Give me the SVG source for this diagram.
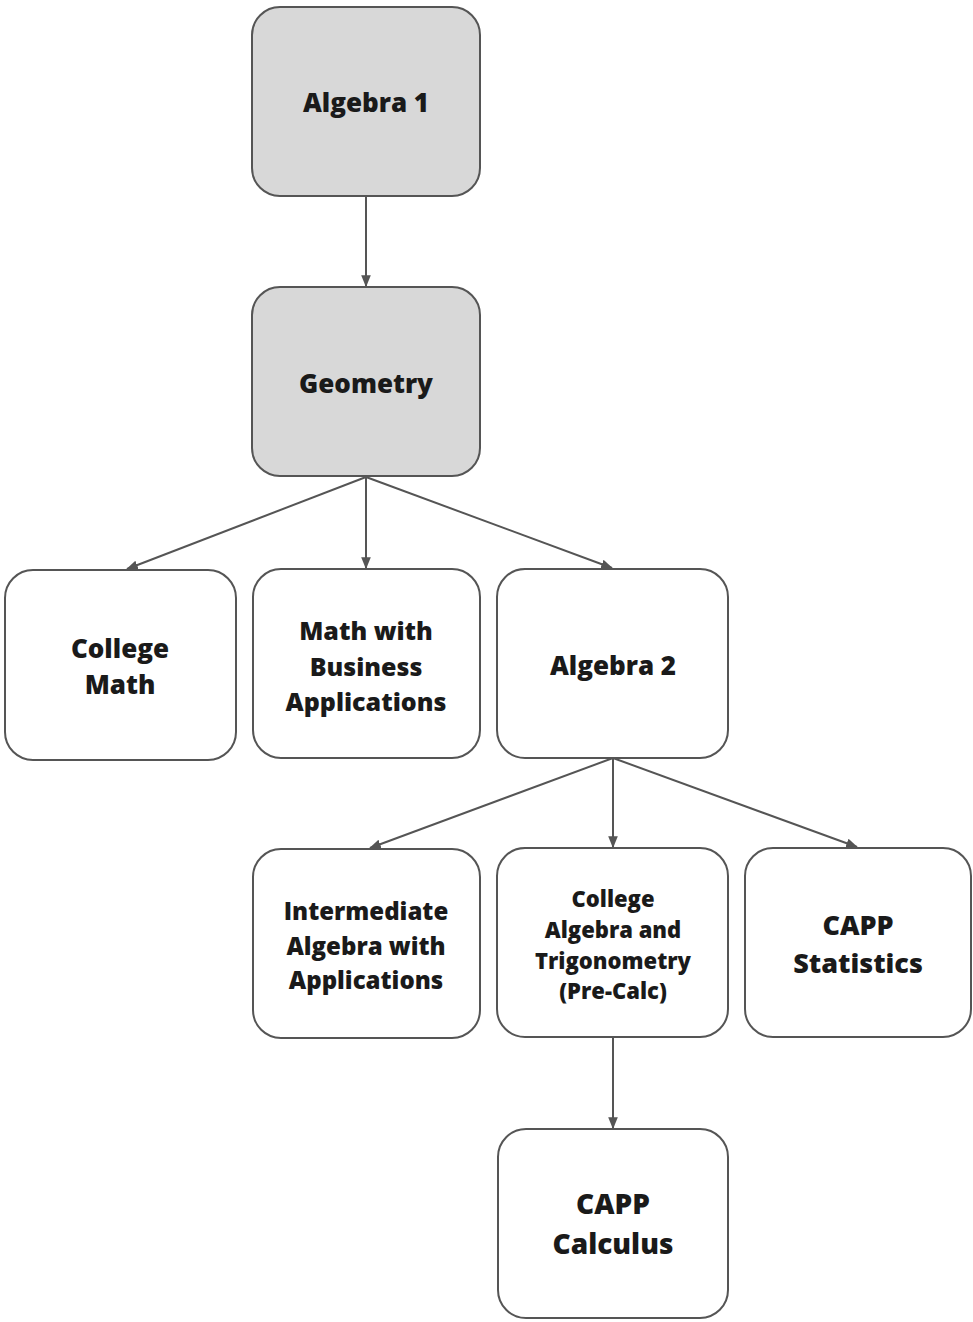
<svg xmlns="http://www.w3.org/2000/svg" width="973" height="1322" viewBox="0 0 973 1322">
<defs>
<style>
.n{fill:#ffffff;stroke:#555;stroke-width:2}
.g{fill:#d8d8d8;stroke:#555;stroke-width:2}
.t{font-family:"Open Sans","Noto Sans",sans-serif;font-weight:800;fill:#1a1a1a;text-anchor:middle}
.c{stroke:#555;stroke-width:2;fill:none;marker-end:url(#a)}
</style>
<marker id="a" viewBox="0 0 10 10" refX="9" refY="5" markerWidth="6" markerHeight="6" markerUnits="strokeWidth" orient="auto">
<path d="M0,1 L10,5 L0,9 z" fill="#555"/>
</marker>
</defs>
<rect width="973" height="1322" fill="#fff"/>
<g id="connectors">
<line class="c" x1="366" y1="197" x2="366" y2="286"/>
<line class="c" x1="366" y1="477" x2="127" y2="569"/>
<line class="c" x1="366" y1="477" x2="366" y2="568"/>
<line class="c" x1="366" y1="477" x2="612" y2="568"/>
<line class="c" x1="613" y1="758" x2="370" y2="848"/>
<line class="c" x1="613" y1="758" x2="613" y2="847"/>
<line class="c" x1="613" y1="758" x2="857" y2="847"/>
<line class="c" x1="613" y1="1037" x2="613" y2="1128"/>
</g>
<g id="algebra1">
<rect class="g" x="252" y="7" width="228" height="189" rx="28"/>
<text class="t" x="366" y="112" font-size="26">Algebra 1</text>
</g>
<g id="geometry">
<rect class="g" x="252" y="287" width="228" height="189" rx="28"/>
<text class="t" x="366" y="393" font-size="26">Geometry</text>
</g>
<g id="collegemath">
<rect class="n" x="5" y="570" width="231" height="190" rx="28"/>
<text class="t" x="120" y="658" font-size="26">College</text>
<text class="t" x="120" y="694" font-size="26">Math</text>
</g>
<g id="mathbusiness">
<rect class="n" x="253" y="569" width="227" height="189" rx="28"/>
<text class="t" x="366" y="640" font-size="25">Math with</text>
<text class="t" x="366" y="676" font-size="25">Business</text>
<text class="t" x="366" y="711" font-size="25">Applications</text>
</g>
<g id="algebra2">
<rect class="n" x="497" y="569" width="231" height="189" rx="28"/>
<text class="t" x="613" y="675" font-size="26">Algebra 2</text>
</g>
<g id="intermediate">
<rect class="n" x="253" y="849" width="227" height="189" rx="28"/>
<text class="t" x="366" y="920" font-size="24">Intermediate</text>
<text class="t" x="366" y="955" font-size="24">Algebra with</text>
<text class="t" x="366" y="989" font-size="24">Applications</text>
</g>
<g id="collegealgebra">
<rect class="n" x="497" y="848" width="231" height="189" rx="28"/>
<text class="t" x="613" y="907" font-size="22">College</text>
<text class="t" x="613" y="938" font-size="22">Algebra and</text>
<text class="t" x="613" y="969" font-size="22">Trigonometry</text>
<text class="t" x="613" y="999" font-size="22">(Pre-Calc)</text>
</g>
<g id="cappstatistics">
<rect class="n" x="745" y="848" width="226" height="189" rx="28"/>
<text class="t" x="858" y="935" font-size="27">CAPP</text>
<text class="t" x="858" y="973" font-size="27">Statistics</text>
</g>
<g id="cappcalculus">
<rect class="n" x="498" y="1129" width="230" height="189" rx="28"/>
<text class="t" x="613" y="1214" font-size="28">CAPP</text>
<text class="t" x="613" y="1254" font-size="28">Calculus</text>
</g>
</svg>
